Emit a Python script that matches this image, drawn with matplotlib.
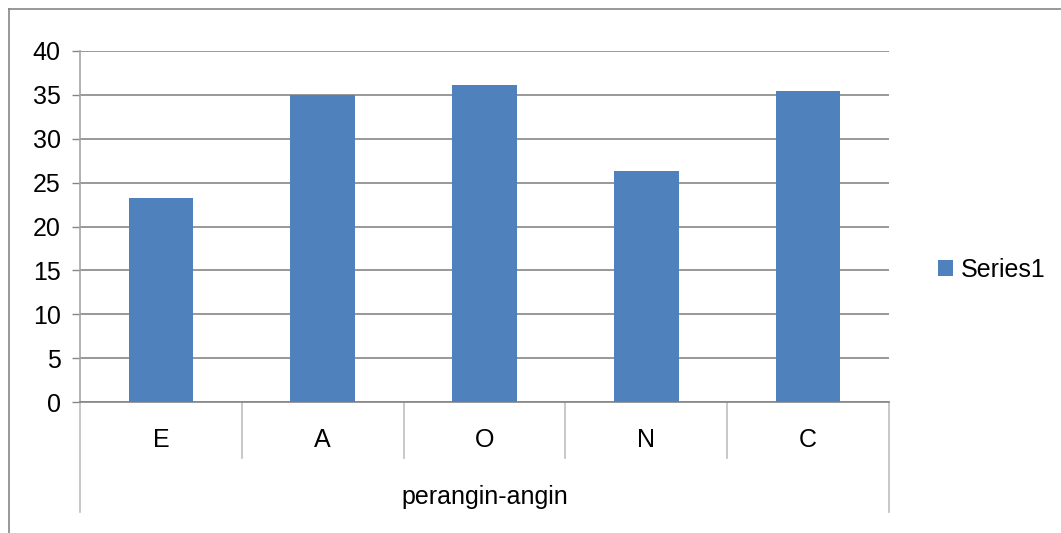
import matplotlib
matplotlib.use("Agg")
import matplotlib.pyplot as plt
from matplotlib.lines import Line2D
import matplotlib.transforms as mtransforms

categories = ["E", "A", "O", "N", "C"]
values = [23.3, 35.0, 36.1, 26.3, 35.4]
group_label = "perangin-angin"
series_name = "Series1"
yticks = [0, 5, 10, 15, 20, 25, 30, 35, 40]

plt.rcParams['font.family'] = ['Liberation Sans', 'DejaVu Sans']

W, H = 1061, 533
fig = plt.figure(figsize=(W / 100, H / 100), dpi=100)
fig.patch.set_facecolor("white")

x0, x1, ytop, ybot = 80, 889, 51, 402
ax = fig.add_axes([x0 / W, (H - ybot) / H, (x1 - x0) / W, (ybot - ytop) / H])

grid_c = "#868686"
sep_c = "#BFBFBF"
bar_c = "#4F81BD"

xs = list(range(len(categories)))
bars = ax.bar(xs, values, width=0.4, color=bar_c, zorder=3, label=series_name)

ax.set_xlim(-0.5, len(categories) - 0.5)
ax.set_ylim(0, 40)
ax.set_yticks(yticks)
ax.set_yticklabels([str(v) for v in yticks], fontsize=18)
ax.yaxis.grid(True, color=grid_c, linewidth=1.2, zorder=0)
ax.set_axisbelow(True)
ax.tick_params(axis='y', length=6, width=1, color=grid_c, pad=8)
ax.set_xticks([])

for s in ["top", "right"]:
    ax.spines[s].set_visible(False)
ax.spines["left"].set_color("#A6A6A6")
ax.spines["left"].set_linewidth(1.2)
ax.spines["bottom"].set_color(grid_c)
ax.spines["bottom"].set_linewidth(1.2)

trans = mtransforms.blended_transform_factory(ax.transData, ax.transAxes)
inner_y = -(458 - ybot) / (ybot - ytop)
outer_y = -(512 - ybot) / (ybot - ytop)
n = len(categories)
for k in range(n + 1):
    xb = k - 0.5
    yend = outer_y if k in (0, n) else inner_y
    ax.add_line(Line2D([xb, xb], [0, yend], transform=trans, color=sep_c,
                       linewidth=1.2, clip_on=False))

lab_y = -(440 - ybot) / (ybot - ytop)
for i, c in enumerate(categories):
    ax.text(i, lab_y, c, transform=trans, ha="center", va="center", fontsize=18)
grp_y = -(497 - ybot) / (ybot - ytop)
ax.text((n - 1) / 2, grp_y, group_label, transform=trans, ha="center", va="center",
        fontsize=18)

# legend
leg = fig.legend(handles=[bars], labels=[series_name], loc="center left",
                 bbox_to_anchor=(938 / W, (H - 270) / H), frameon=False,
                 fontsize=18, handlelength=0.6, handleheight=0.6,
                 handletextpad=0.3, borderpad=0, borderaxespad=0)

# chart border (top and left visible)
bx, by = 8.5 / W, 1 - 8.5 / H
fig.add_artist(Line2D([bx, 1], [by, by], transform=fig.transFigure, color=grid_c, linewidth=1.2))
fig.add_artist(Line2D([bx, bx], [by, 0], transform=fig.transFigure, color=grid_c, linewidth=1.2))

fig.savefig("out.png", dpi=100, facecolor="white")
